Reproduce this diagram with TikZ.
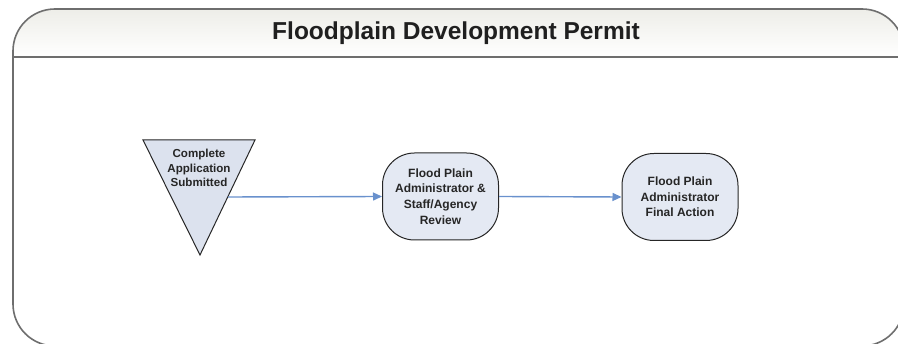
\documentclass[tikz,border=0pt]{standalone}
\usepackage{fontspec}
\setmainfont{Liberation Sans}
\usetikzlibrary{arrows.meta}
\definecolor{framec}{RGB}{110,110,110}
\definecolor{headtop}{RGB}{234,234,228}
\definecolor{nodefill}{RGB}{228,233,243}
\definecolor{trifill}{RGB}{220,226,238}
\definecolor{arrowc}{RGB}{105,145,205}
\tikzset{
  procbox/.style={draw=black!85, line width=1pt, fill=nodefill, rounded corners=32pt,
    minimum width=116pt, minimum height=87pt, align=center, font=\bfseries\fontsize{12}{15.7}\selectfont, text=black!85},
  flowarrow/.style={draw=arrowc, line width=1.4pt, -{Triangle[length=9pt,width=8pt]}},
}
\begin{document}
\begin{tikzpicture}[x=1pt,y=-1pt]
\useasboundingbox (0,0) rectangle (898,344);
\begin{scope}
\clip (0,0) rectangle (898,344);
\begin{scope}
\clip[rounded corners=42pt] (13,9) rectangle (904,346);
\fill[top color=headtop, bottom color=white] (0,0) rectangle (910,57);
\end{scope}
\draw[framec, line width=1.6pt, rounded corners=42pt] (13,9) rectangle (904,346);
\draw[framec, line width=1.6pt] (13,57) -- (906,57);
\end{scope}
\node[font=\bfseries\fontsize{24.5}{28}\selectfont, text=black!88] (title) at (456,33) {Floodplain Development Permit};
% triangle
\draw[black!85, line width=1pt, fill=trifill] (143,140) -- (255,140) -- (200,255) -- cycle;
\node[align=center, font=\bfseries\fontsize{11.6}{14.5}\selectfont, text=black!85] (start) at (199,168) {Complete\\Application\\Submitted};
\coordinate (startout) at (228,197);
\node[procbox] (review) at (440.5,196.5) {Flood Plain\\Administrator \&\\Staff/Agency\\Review};
\node[procbox] (final) at (680,197) {Flood Plain\\Administrator\\Final Action};
\draw[flowarrow] (startout) -- (review.west);
\draw[flowarrow] (review.east) -- (final.west);
\end{tikzpicture}
\end{document}
